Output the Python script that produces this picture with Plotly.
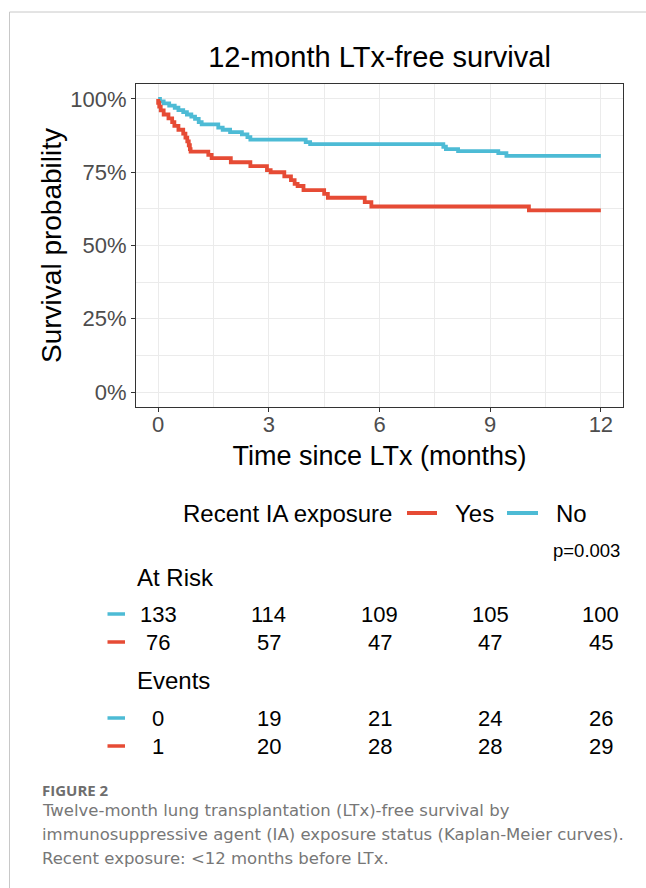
import plotly.graph_objects as go

# ---------------- data ----------------
# Kaplan-Meier steps (time in months, survival in %)
no_time = [0, 0.05, 0.15, 0.3, 0.45, 0.55, 0.68, 0.78, 0.9, 1.0, 1.1, 1.18, 1.63, 1.75, 1.95,
           2.27, 2.42, 2.5, 4.0, 4.12, 7.73, 7.8, 8.13, 9.22, 9.44, 12]
no_surv = [100, 99.2, 98.5, 97.7, 97.0, 96.2, 95.5, 94.7, 94.0, 93.2, 92.1, 91.3, 90.2, 89.5, 88.7,
           87.9, 87.0, 86.1, 85.3, 84.6, 83.7, 82.9, 82.2, 81.5, 80.6, 80.6]

yes_time = [0, 0, 0.03, 0.07, 0.15, 0.28, 0.38, 0.44, 0.55, 0.68, 0.74, 0.79, 0.83, 0.86, 0.88,
            1.36, 1.45, 1.97, 2.5, 2.95, 3.05, 3.42, 3.6, 3.7, 3.78, 3.94, 4.5, 4.6, 5.6, 5.78,
            10.05, 12]
yes_surv = [100, 98.7, 97.4, 96.1, 94.7, 93.4, 92.1, 90.8, 89.5, 88.2, 86.8, 85.5, 84.2, 82.9, 82.0,
            80.9, 79.8, 78.4, 77.1, 75.7, 75.0, 73.6, 72.3, 71.0, 70.3, 68.9, 67.6, 66.3, 64.8, 63.3,
            62.0, 62.0]

table_times = [0, 3, 6, 9, 12]
at_risk_no = [133, 114, 109, 105, 100]
at_risk_yes = [76, 57, 47, 47, 45]
events_no = [0, 19, 21, 24, 26]
events_yes = [1, 20, 28, 28, 29]

x_ticks = [0, 3, 6, 9, 12]
y_ticks = [0, 25, 50, 75, 100]
y_ticklabels = ["0%", "25%", "50%", "75%", "100%"]

title_text = "12-month LTx-free survival"
legend_title = "Recent IA exposure"
group_names = ["Yes", "No"]
p_text = "p=0.003"
caption_head = "FIGURE 2"
caption_lines = [
    "Twelve-month lung transplantation (LTx)-free survival by",
    "immunosuppressive agent (IA) exposure status (Kaplan-Meier curves).",
    "Recent exposure: &lt;12 months before LTx.",
]

# ---------------- styling ----------------
RED = "#E64B35"
BLUE = "#4DBBD5"
FONT = "Liberation Sans, Arial, sans-serif"
CAP_FONT = "DejaVu Sans, Open Sans, sans-serif"
W, H = 646, 888


def px(x):
    return x / W


def py(y):
    return 1 - y / H


fig = go.Figure()
fig.add_trace(go.Scatter(x=no_time, y=no_surv, mode="lines", name=group_names[1],
                         line=dict(color=BLUE, width=3.8, shape="hv"), showlegend=False))
fig.add_trace(go.Scatter(x=yes_time, y=yes_surv, mode="lines", name=group_names[0],
                         line=dict(color=RED, width=3.8, shape="hv"), showlegend=False))

grid = "#EBEBEB"
fig.update_layout(
    width=W, height=H,
    margin=dict(l=0, r=0, t=0, b=0),
    paper_bgcolor="white", plot_bgcolor="white",
    font=dict(family=FONT, color="black"),
    title=dict(text=title_text, x=px(379.5), y=py(57), xref="paper", yref="paper",
               xanchor="center", yanchor="middle", font=dict(size=29, color="black", family=FONT)),
    xaxis=dict(
        domain=[px(136), px(623)], range=[-0.6, 12.6],
        tickvals=x_ticks, ticks="outside", ticklen=4, tickwidth=1, tickcolor="#333333",
        ticklabelstandoff=-6,
        showline=True, mirror=True, linecolor="#333333", linewidth=1,
        showgrid=True, gridcolor=grid, gridwidth=1.3, zeroline=False,
        minor=dict(dtick=1.5, tick0=0, showgrid=True, gridcolor=grid, gridwidth=0.8),
        tickfont=dict(size=22, color="#4D4D4D", family=FONT),
        title=dict(text="Time since LTx (months)", font=dict(size=27, color="black", family=FONT),
                   standoff=10),
    ),
    yaxis=dict(
        domain=[py(406.7), py(84.3)], range=[-5, 105],
        tickvals=y_ticks, ticktext=y_ticklabels, ticks="outside", ticklen=4, tickwidth=1,
        tickcolor="#333333",
        showline=True, mirror=True, linecolor="#333333", linewidth=1,
        showgrid=True, gridcolor=grid, gridwidth=1.3, zeroline=False,
        minor=dict(dtick=12.5, tick0=0, showgrid=True, gridcolor=grid, gridwidth=0.8),
        tickfont=dict(size=22, color="#4D4D4D", family=FONT),
        title=dict(text="Survival probability", font=dict(size=28, color="black", family=FONT),
                   standoff=0),
    ),
)

annotations = []
shapes = []

# legend (custom, ggplot-like)
leg_y = py(513)
annotations.append(dict(text=legend_title, x=px(181), y=leg_y, xref="paper", yref="paper",
                        xanchor="left", yanchor="middle", showarrow=False,
                        font=dict(size=24, color="black", family=FONT)))
for name, col, x0, x1, tx in [(group_names[0], RED, 407, 437, 453), (group_names[1], BLUE, 507, 538, 554)]:
    shapes.append(dict(type="line", xref="paper", yref="paper", x0=px(x0), x1=px(x1),
                       y0=leg_y, y1=leg_y, line=dict(color=col, width=4)))
    annotations.append(dict(text=name, x=px(tx), y=leg_y, xref="paper", yref="paper",
                            xanchor="left", yanchor="middle", showarrow=False,
                            font=dict(size=24, color="black", family=FONT)))

# p value
annotations.append(dict(text=p_text, x=px(622), y=py(550), xref="paper", yref="paper",
                        xanchor="right", yanchor="middle", showarrow=False,
                        font=dict(size=18.5, color="black", family=FONT)))

# risk / events tables
for header, hy in [("At Risk", 577), ("Events", 680)]:
    annotations.append(dict(text=header, x=px(135), y=py(hy), xref="paper", yref="paper",
                            xanchor="left", yanchor="middle", showarrow=False,
                            font=dict(size=24, color="black", family=FONT)))

rows = [(at_risk_no, BLUE, 614), (at_risk_yes, RED, 642), (events_no, BLUE, 718), (events_yes, RED, 746)]
for vals, col, ry in rows:
    shapes.append(dict(type="line", xref="paper", yref="paper", x0=px(107.5), x1=px(125),
                       y0=py(ry), y1=py(ry), line=dict(color=col, width=3.5)))
    for t, v in zip(table_times, vals):
        annotations.append(dict(text=str(v), x=t, y=py(ry), xref="x", yref="paper",
                                xanchor="center", yanchor="middle", showarrow=False,
                                font=dict(size=22, color="black", family=FONT)))

# caption
annotations.append(dict(text=caption_head, x=px(40), y=py(790), xref="paper", yref="paper",
                        xanchor="left", yanchor="middle", showarrow=False,
                        font=dict(size=15, color="#6E6E6E", family="Open Sans, sans-serif", weight="bold")))
for i, line in enumerate(caption_lines):
    annotations.append(dict(text=line, x=px(40), y=py(810 + 24 * i), xref="paper", yref="paper",
                            xanchor="left", yanchor="middle", showarrow=False,
                            font=dict(size=16.5, color="#777777", family=CAP_FONT)))

# page frame
shapes.append(dict(type="line", xref="paper", yref="paper", x0=px(9.5), x1=1, y0=py(12), y1=py(12),
                   line=dict(color="#C8C8C8", width=1)))
shapes.append(dict(type="line", xref="paper", yref="paper", x0=px(9.5), x1=px(9.5), y0=py(12), y1=0,
                   line=dict(color="#C8C8C8", width=1)))

fig.update_layout(annotations=annotations, shapes=shapes)
fig.write_html("out.html", config={"displayModeBar": False},
               post_script="document.body.style.margin='0px';")
